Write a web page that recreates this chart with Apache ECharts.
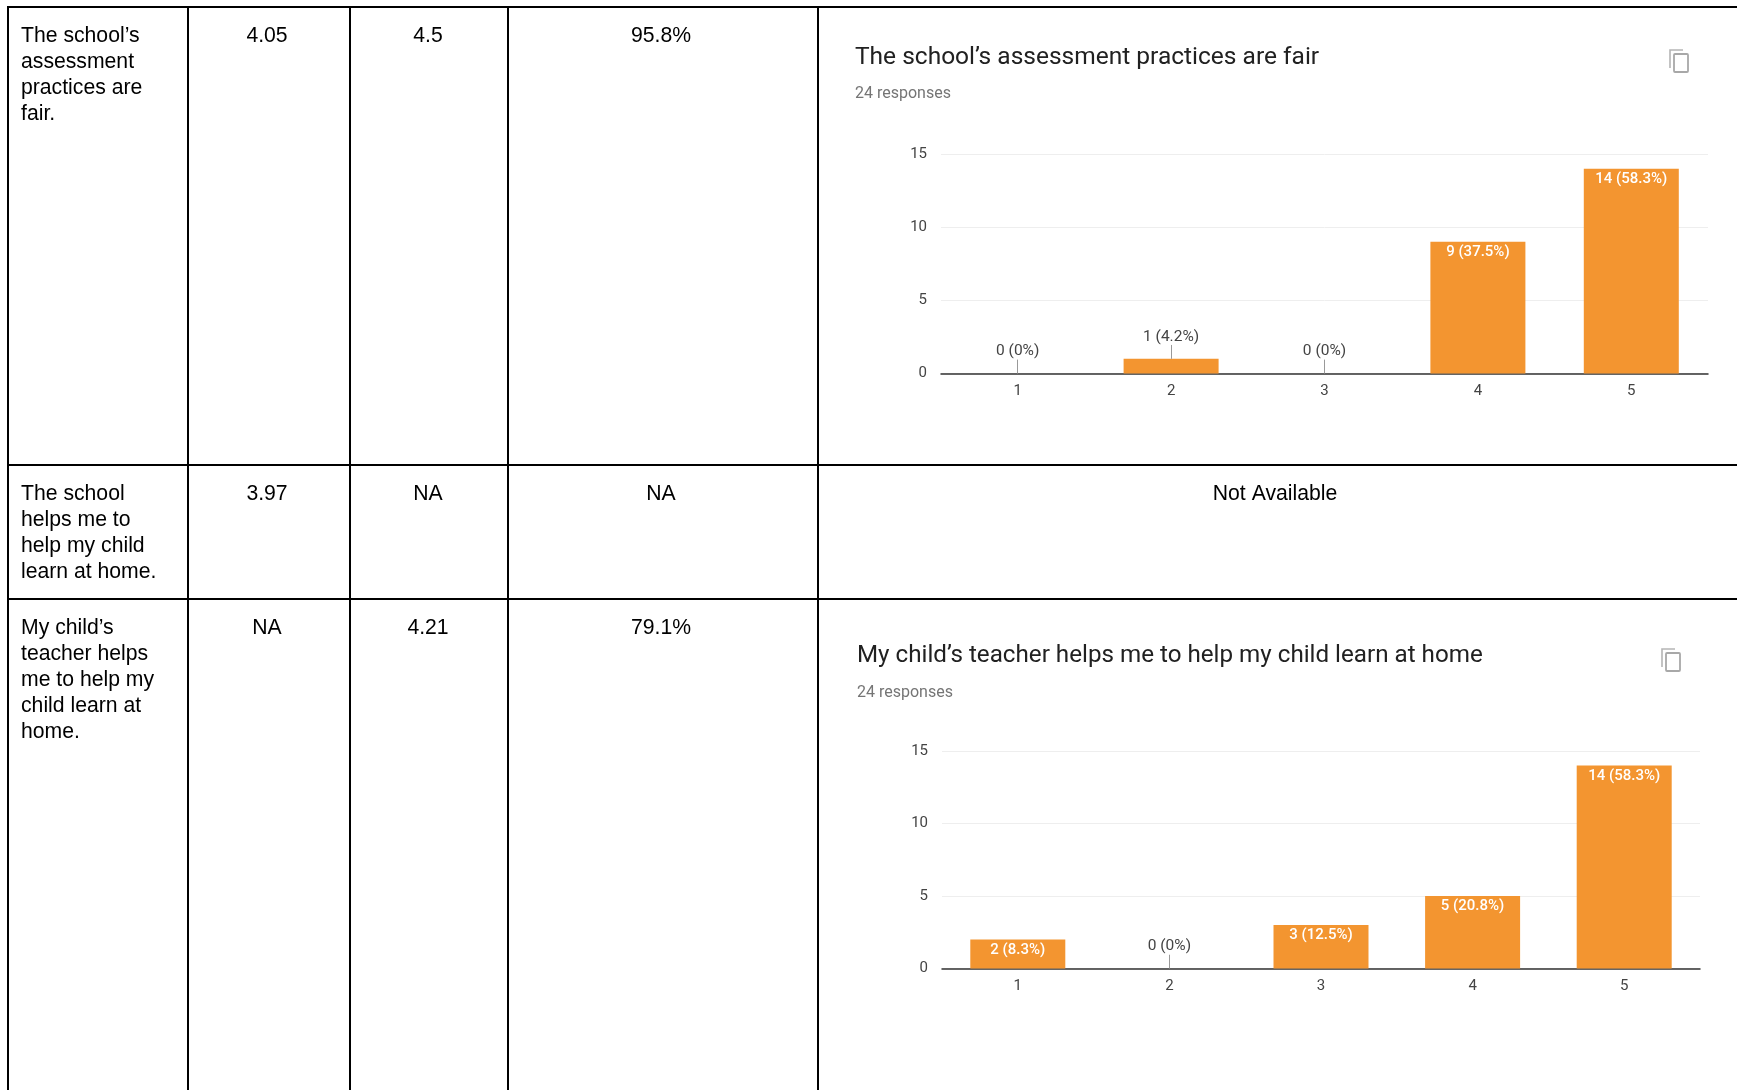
<!DOCTYPE html>
<html>
<head>
<meta charset="utf-8">
<style>html,body{margin:0;padding:0;background:#fff}#c{width:1737px;height:1090px}</style>
<script src="https://cdn.jsdelivr.net/npm/echarts@6/dist/echarts.min.js"></script>
</head>
<body>
<div id="c"></div>
<script>
const categories = ['1', '2', '3', '4', '5'];
const yTicks = { min: 0, max: 15, interval: 5 };

const fairTitle = 'The school\u2019s assessment practices are fair';
const fairResponses = '24 responses';
const fairCounts = [0, 1, 0, 9, 14];
const fairPercents = ['0%', '4.2%', '0%', '37.5%', '58.3%'];

const homeTitle = 'My child\u2019s teacher helps me to help my child learn at home';
const homeResponses = '24 responses';
const homeCounts = [2, 0, 3, 5, 14];
const homePercents = ['8.3%', '0%', '12.5%', '20.8%', '58.3%'];

const rowFairLines = ['The school\u2019s', 'assessment', 'practices are', 'fair.'];
const rowFairCells = ['4.05', '4.5', '95.8%'];
const rowSchoolLines = ['The school', 'helps me to', 'help my child', 'learn at home.'];
const rowSchoolCells = ['3.97', 'NA', 'NA'];
const notAvailable = 'Not Available';
const rowHomeLines = ['My child\u2019s', 'teacher helps', 'me to help my', 'child learn at', 'home.'];
const rowHomeCells = ['NA', '4.21', '79.1%'];

const BAR = '#f39530', INK = '#000000', LABEL = '#444444';
const cellFont = 'Liberation Sans, Arial, sans-serif';
const chartFont = 'Roboto, sans-serif';

const colX = [8, 188, 350, 508, 818];
const rowY = [7, 465, 599];
const cellCenters = [267, 428, 661];

function cellText(text, x, y, align) {
  return { type: 'text', silent: true, style: { text, x, y, fill: INK, font: '21.2px ' + cellFont, textAlign: align || 'left', textVerticalAlign: 'middle' } };
}
function row(lines, cells, y) {
  const out = lines.map((t, i) => cellText(t, 21, y + i * 26));
  cells.forEach((t, i) => out.push(cellText(t, cellCenters[i], y, 'center')));
  return out;
}
function copyIcon(x, y) {
  return [
    { type: 'polyline', silent: true, shape: { points: [[x, y + 18], [x, y], [x + 13, y]] }, style: { stroke: '#b5b5b5', lineWidth: 1.6, fill: null } },
    { type: 'rect', silent: true, shape: { x: x + 4, y: y + 4, width: 14, height: 18, r: 1 }, style: { stroke: '#a8a8a8', lineWidth: 1.8, fill: '#fff' } }
  ];
}
const tableLines = [];
colX.forEach(x => tableLines.push({ type: 'line', silent: true, shape: { x1: x, y1: 6, x2: x, y2: 1090 }, style: { stroke: '#000', lineWidth: 2 } }));
rowY.forEach(y => tableLines.push({ type: 'line', silent: true, shape: { x1: 7, y1: y, x2: 1737, y2: y }, style: { stroke: '#000', lineWidth: 2 } }));

const graphicEls = [
  ...tableLines,
  ...row(rowFairLines, rowFairCells, 36.5),
  ...row(rowSchoolLines, rowSchoolCells, 494.5),
  cellText(notAvailable, 1275, 494.5, 'center'),
  ...row(rowHomeLines, rowHomeCells, 628.5),
  ...copyIcon(1670, 50),
  ...copyIcon(1662, 649)
];

function grid(left, top, width, height) {
  return { left, top, width, height, containLabel: false, show: false };
}
function xAxis(i) {
  return {
    type: 'category', gridIndex: i, data: categories,
    axisTick: { show: false },
    axisLine: { lineStyle: { color: '#333', width: 1.5 } },
    axisLabel: { color: LABEL, fontFamily: chartFont, fontSize: 15, margin: 10 }
  };
}
function yAxis(i) {
  return {
    type: 'value', gridIndex: i, min: yTicks.min, max: yTicks.max, interval: yTicks.interval,
    axisLine: { show: false }, axisTick: { show: false },
    splitLine: { lineStyle: { color: '#eeeeee', width: 1 } },
    axisLabel: { color: LABEL, fontFamily: chartFont, fontSize: 15, margin: 14, padding: [2, 0, 0, 0] }
  };
}
const LEADER = 0.95;
function barSeries(i, counts, percents) {
  return {
    type: 'bar', xAxisIndex: i, yAxisIndex: i, barWidth: 95,
    itemStyle: { color: BAR },
    data: counts.map((v, k) => ({
      value: v,
      label: v >= 2
        ? { show: true, position: 'insideTop', distance: 3, color: '#fff', fontWeight: 500, fontFamily: chartFont, fontSize: 15,
            formatter: v + ' (' + percents[k] + ')' }
        : { show: true, position: 'top', distance: 14, color: LABEL, fontFamily: chartFont, fontSize: 15.5,
            formatter: v + ' (' + percents[k] + ')' }
    })),
    markLine: {
      silent: true, symbol: 'none', animation: false,
      label: { show: false },
      lineStyle: { color: '#999', width: 1, type: 'solid' },
      data: counts.map((v, k) => [v, k]).filter(p => p[0] < 2).map(p => [
        { xAxis: categories[p[1]], yAxis: p[0] },
        { xAxis: categories[p[1]], yAxis: p[0] + LEADER }
      ])
    }
  };
}
function title(text, left, top, size, color) {
  return { text, left, top, padding: 0, textStyle: { fontFamily: chartFont, fontSize: size, fontWeight: 400, color } };
}

const chart = echarts.init(document.getElementById('c'));
chart.setOption({
  animation: false,
  backgroundColor: '#fff',
  title: [
    title(fairTitle, 855, 45, 24.5, '#212121'),
    title(fairResponses, 855, 86, 16, '#757575'),
    title(homeTitle, 857, 644, 24.2, '#212121'),
    title(homeResponses, 857, 685, 16, '#757575')
  ],
  grid: [grid(941, 154, 767, 219.5), grid(942, 751, 758, 217.5)],
  xAxis: [xAxis(0), xAxis(1)],
  yAxis: [yAxis(0), yAxis(1)],
  series: [barSeries(0, fairCounts, fairPercents), barSeries(1, homeCounts, homePercents)],
  graphic: { elements: graphicEls }
});
</script>
</body>
</html>
